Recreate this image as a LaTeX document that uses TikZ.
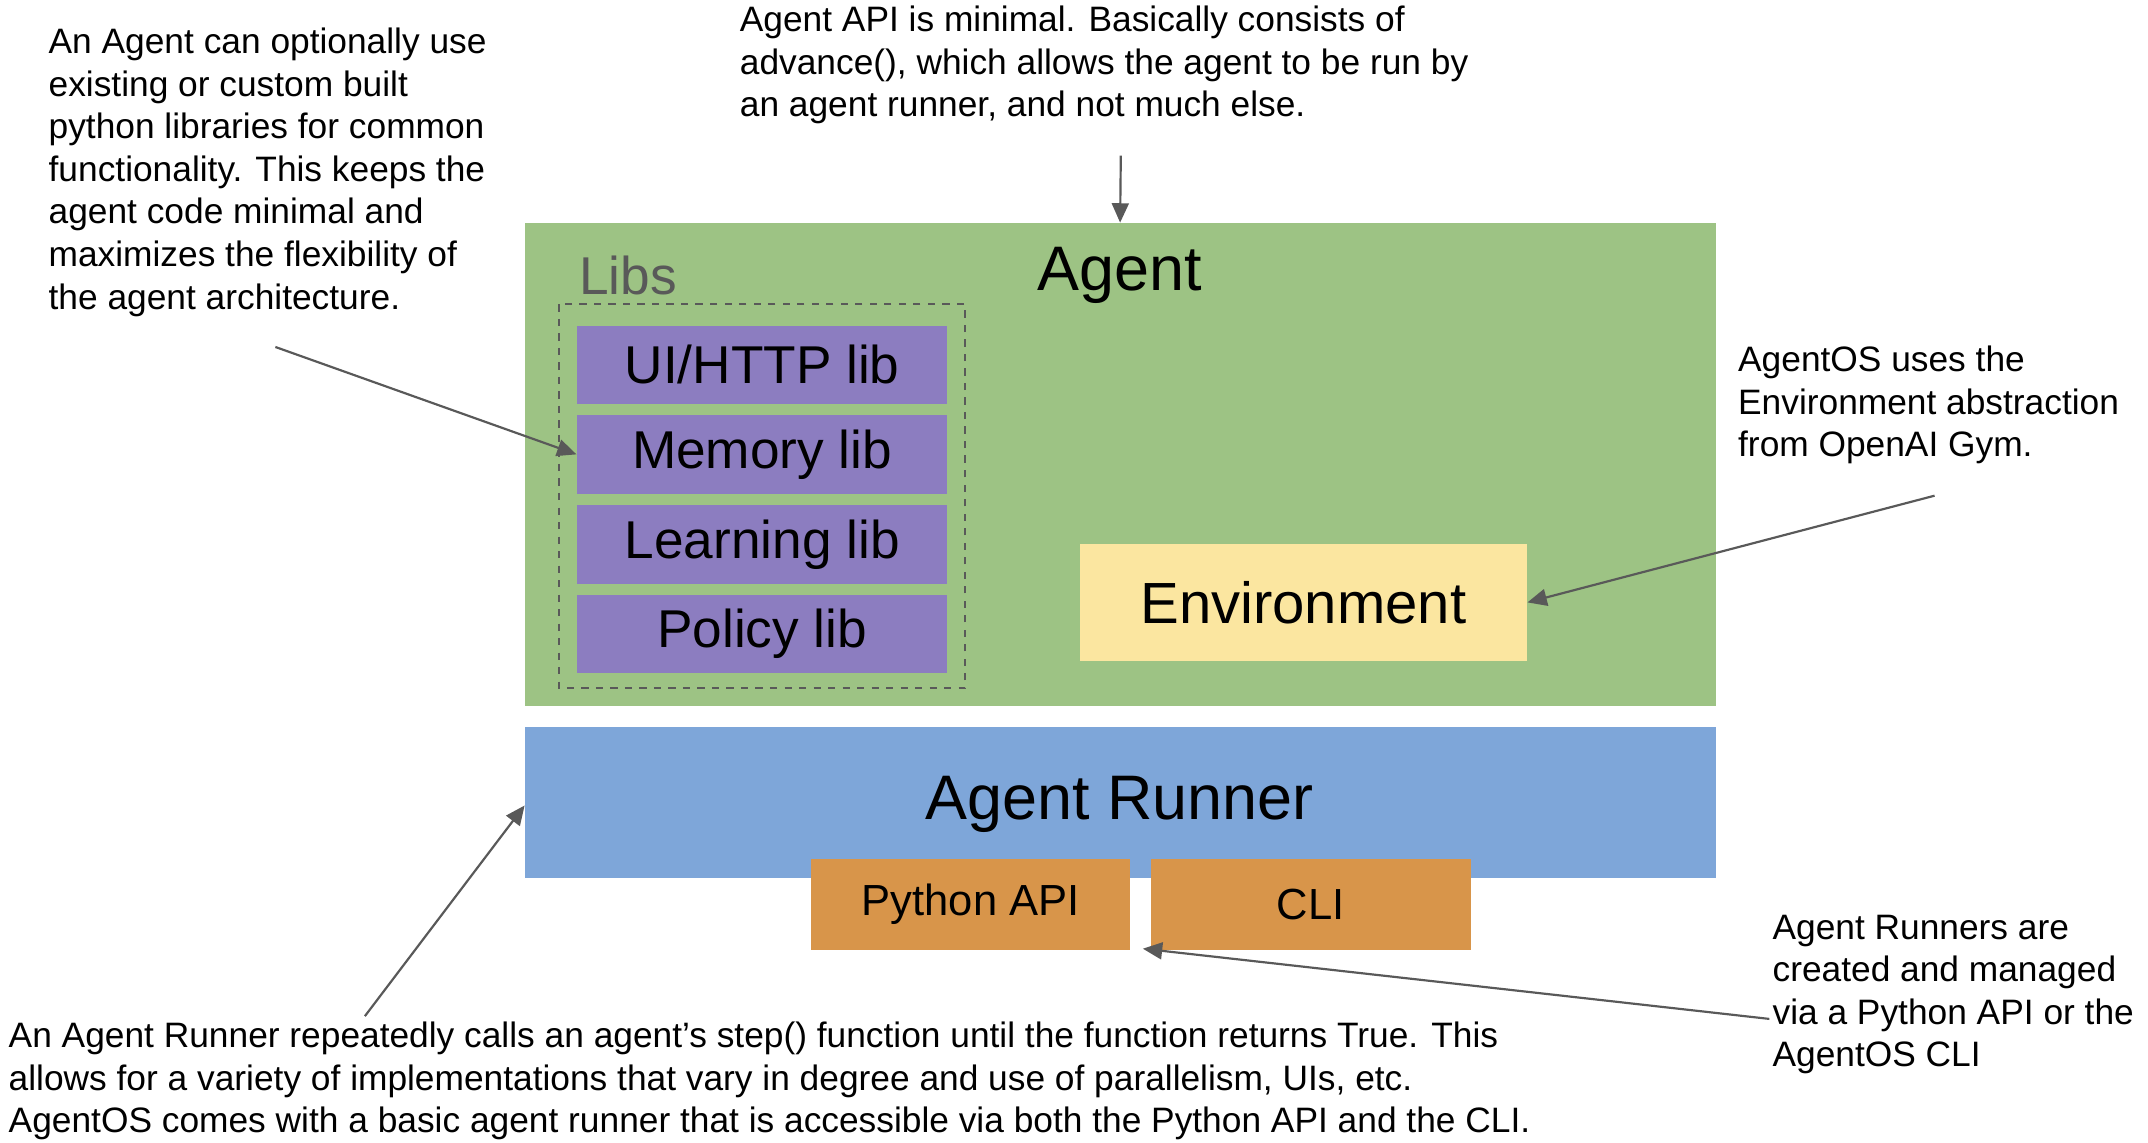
\documentclass[tikz,border=0pt]{standalone}
\usepackage{fontspec}
\setmainfont{Liberation Sans}
\usetikzlibrary{arrows.meta,positioning}
\definecolor{agentgreen}{HTML}{9DC384}
\definecolor{runnerblue}{HTML}{7EA6D9}
\definecolor{libpurple}{HTML}{8C7DC0}
\definecolor{envyellow}{HTML}{FBE6A0}
\definecolor{apiorange}{HTML}{D8954A}
\definecolor{arrowgray}{HTML}{595959}
\tikzset{
    box/.style={draw=none,inner sep=0pt,minimum width=#1},
    libbox/.style={box=5.38cm,fill=libpurple,minimum height=1.14cm,font=\fontsize{22}{26}\selectfont},
    apibox/.style={box=4.64cm,fill=apiorange,minimum height=1.32cm,font=\fontsize{18}{22}\selectfont},
    note/.style={align=left,anchor=north west,inner sep=0pt,font=\fontsize{14.6}{17.6}\selectfont},
    pointer/.style={arrowgray,line width=0.9pt,-{Triangle[length=8pt,width=7pt]}}
}
\begin{document}
\begin{tikzpicture}[x=0.02cm,y=-0.02cm]
                \useasboundingbox (0,0) rectangle (1560,830);
                % main boxes
                \node[box=17.3cm,fill=agentgreen,minimum height=7.02cm] (agent) at (813.5,337.5) {};
                \node[font=\fontsize{26}{30}\selectfont] (agentlbl) at (813,200) {Agent};
                \node[box=17.3cm,fill=runnerblue,minimum height=2.2cm] (runner) at (813.5,583) {};
                \node[font=\fontsize{26}{30}\selectfont] at (813,584) {Agent Runner};
                \node[apibox] (pyapi) at (705,657) {Python API};
                \node[apibox] (cli) at (952,657) {CLI};
                \node[box=6.5cm,fill=envyellow,minimum height=1.7cm,font=\fontsize{24}{28}\selectfont] (env) at (946.5,437.5) {Environment};

                % libs
                \draw[dashed,arrowgray,thick] (406,221) rectangle (701,500);
                \node[text=arrowgray,font=\fontsize{22}{26}\selectfont] (libs) at (456,200) {Libs};
                \node[libbox] (uilib) at (553.5,265) {UI/HTTP lib};
                \node[libbox] (memlib) at (553.5,330) {Memory lib};
                \node[libbox] (learnlib) at (553.5,395.5) {Learning lib};
                \node[libbox] (pollib) at (553.5,460.5) {Policy lib};

                % notes
                \node[note] (libnote) at (35,20) {An Agent can optionally use\\existing or custom built\\python libraries for common\\functionality. This keeps the\\agent code minimal and\\maximizes the flexibility of\\the agent architecture.};
                \node[note] (apinote) at (537,4) {Agent API is minimal. Basically consists of\\advance(), which allows the agent to be run by\\an agent runner, and not much else.};
                \node[note] (envnote) at (1262,251) {AgentOS uses the\\Environment abstraction\\from OpenAI Gym.};
                \node[note] (clinote) at (1287,664) {Agent Runners are\\created and managed\\via a Python API or the\\AgentOS CLI};
                \node[note] (runnote) at (6,742) {An Agent Runner repeatedly calls an agent’s step() function until the function returns True. This\\allows for a variety of implementations that vary in degree and use of parallelism, UIs, etc.\\AgentOS comes with a basic agent runner that is accessible via both the Python API and the CLI.};

                % pointers
                \coordinate (apistart) at (814,113);
                \coordinate (libstart) at (200,252);
                \coordinate (envstart) at (1405,360);
                \coordinate (runstart) at (265,738);
                \coordinate (clistart) at (1285,740);
                \coordinate (runend) at (381,585);
                \coordinate (pyend) at (830,689);
                \draw[pointer] (apistart) -- (agent.north);
                \draw[pointer] (libstart) -- (memlib.west);
                \draw[pointer] (envstart) -- (env.east);
                \draw[pointer] (runstart) -- (runend);
                \draw[pointer] (clistart) -- (pyend);
\end{tikzpicture}
\end{document}
